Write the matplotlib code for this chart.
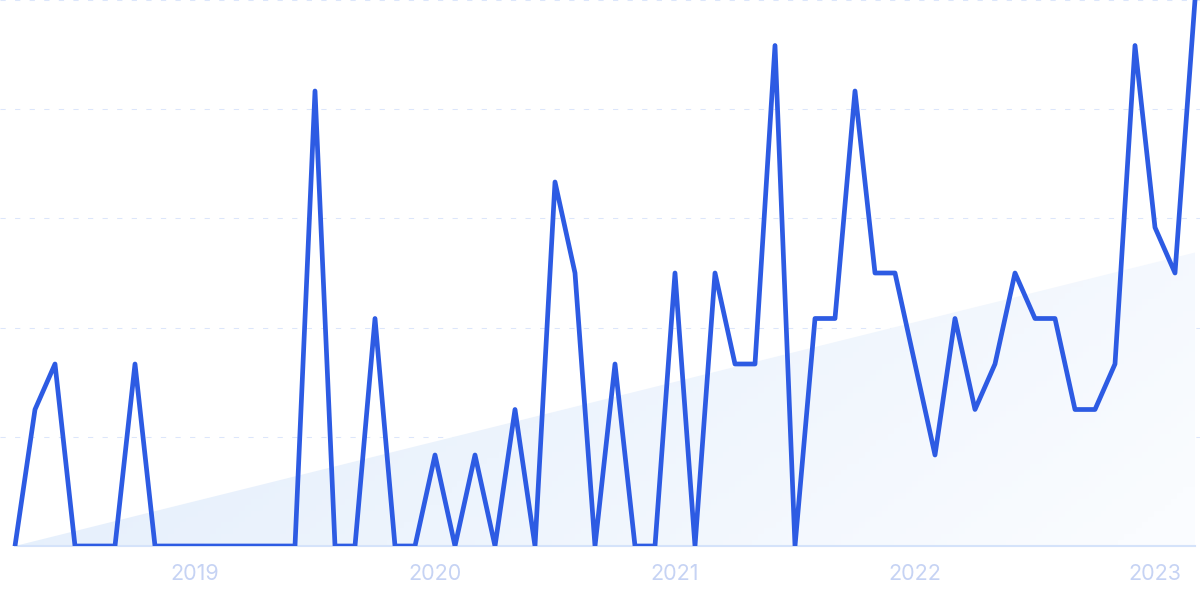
import numpy as np
import matplotlib
matplotlib.use("Agg")
import matplotlib.pyplot as plt
from matplotlib.patches import Polygon

# monthly values, Apr 2018 .. Mar 2023
months = np.arange(60)
values = [0, 3, 4, 0, 0, 0, 4, 0, 0, 0, 0, 0, 0, 0, 0, 10, 0, 0, 5, 0,
          0, 2, 0, 2, 0, 3, 0, 8, 6, 0, 4, 0, 0, 6, 0, 6, 4, 4, 11, 0,
          5, 5, 10, 6, 6, 4, 2, 5, 3, 4, 6, 5, 5, 3, 3, 4, 11, 7, 6, 12]
trend = [0, 6.45]
year_ticks = [9, 21, 33, 45, 57]
year_labels = ["2019", "2020", "2021", "2022", "2023"]

plt.rcParams['font.family'] = ['Inter', 'DejaVu Sans']

fig = plt.figure(figsize=(12, 5.99), dpi=100)
ax = fig.add_axes([0, 53 / 599, 1, 546 / 599])
ax.set_xlim(-0.75, 59.25)
ax.set_ylim(0, 12)

# trend area with gradient
x0, x1 = months[0], months[-1]
grad = np.zeros((50, 200, 4))
gx = np.linspace(0, 1, 200)[None, :]
gy = np.linspace(0, 1, 50)[:, None]
t = np.clip(gx * 0.8 + (1 - gy) * 0.25, 0, 1)
c0 = np.array([224, 236, 251]) / 255
c1 = np.array([250, 252, 255]) / 255
for k in range(3):
    grad[..., k] = c0[k] + (c1[k] - c0[k]) * t
grad[..., 3] = 1
im = ax.imshow(grad, extent=[x0, x1, 0, trend[1]], origin='lower',
               aspect='auto', zorder=1)
poly = Polygon([[x0, trend[0]], [x1, trend[1]], [x1, 0]], closed=True,
               transform=ax.transData, facecolor='none', edgecolor='none')
ax.add_patch(poly)
im.set_clip_path(poly)

# grid
for v in np.linspace(2.4, 12, 5):
    ax.axhline(v, color='#dce6fb', lw=0.75, ls=(0, (5, 9)), zorder=0.5)
ax.plot([x0, x1], [0, 0], color='#d5e3fa', lw=1.5, zorder=2, clip_on=False)

ax.plot(months, values, color='#2d5be3', lw=3.4, zorder=3,
        solid_joinstyle='round', solid_capstyle='round')

ax.set_xticks(year_ticks)
ax.set_xticklabels(year_labels)
ax.tick_params(axis='x', length=0, pad=13, labelsize=15.5, labelcolor='#c6d3f4')
ax.set_yticks([])
for s in ax.spines.values():
    s.set_visible(False)

fig.savefig("out.png", dpi=100)
